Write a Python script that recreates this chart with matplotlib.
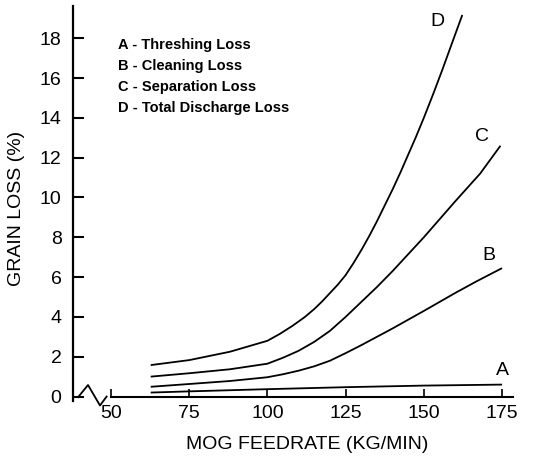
import matplotlib
matplotlib.use('Agg')
import matplotlib.pyplot as plt

plt.rcParams['font.family'] = ['Liberation Sans', 'DejaVu Sans']

# 곡선 데이터
feed_a = [62.7, 75, 100, 125, 150, 175]
loss_a = [0.2, 0.26, 0.37, 0.47, 0.55, 0.6]

feed_b = [62.7, 75, 88, 100, 105, 110, 115, 120, 125, 130, 135, 140, 150, 160, 167, 175]
loss_b = [0.49, 0.63, 0.78, 0.97, 1.12, 1.3, 1.52, 1.8, 2.18, 2.58, 3.0, 3.42, 4.3, 5.2, 5.8, 6.45]

feed_c = [62.7, 75, 88, 100, 105, 110, 115, 120, 125, 130, 135, 140, 150, 160, 168, 174.5]
loss_c = [1.0, 1.17, 1.37, 1.65, 1.95, 2.3, 2.75, 3.3, 4.0, 4.75, 5.5, 6.3, 8.0, 9.8, 11.2, 12.6]

feed_d = [62.7, 75, 88, 100, 104, 108, 112, 115, 117.5, 120, 122.5, 125, 127.5, 130,
          132.5, 135, 137.5, 140, 142.5, 145, 147.5, 150, 153, 156, 159, 162.3]
loss_d = [1.58, 1.83, 2.25, 2.8, 3.15, 3.55, 4.0, 4.4, 4.78, 5.2, 5.62, 6.1, 6.7, 7.35,
          8.05, 8.8, 9.6, 10.4, 11.25, 12.15, 13.05, 14.0, 15.2, 16.45, 17.75, 19.17]

curve_names = ['A', 'B', 'C', 'D']
legend_lines = ['A - Threshing Loss', 'B - Cleaning Loss',
                'C - Separation Loss', 'D - Total Discharge Loss']
x_ticks = [50, 75, 100, 125, 150, 175]
y_ticks = list(range(0, 20, 2))

fig = plt.figure(figsize=(5.33, 4.58), dpi=100)
ax = fig.add_axes([0.1364, 0.1255, 0.8636, 0.8614])
ax.set_xlim(37.76, 184.9)
ax.set_ylim(-0.2, 19.62)

for fx, ly in [(feed_a, loss_a), (feed_b, loss_b), (feed_c, loss_c), (feed_d, loss_d)]:
    ax.plot(fx, ly, color='black', linewidth=1.3, solid_capstyle='butt',
            solid_joinstyle='round')

# 곡선 이름
label_pos = [(175.2, 1.33), (170.9, 7.11), (168.5, 13.06), (154.5, 18.83)]
for name, (lx, ly) in zip(curve_names, label_pos):
    ax.text(lx, ly, name, fontsize=14, ha='center', va='center')

# 범례 텍스트
for i, t in enumerate(legend_lines):
    ax.text(52.3, 17.66 - i * 1.05, t, fontsize=10.5, fontweight='bold',
            ha='left', va='center')

# 축 모양
ax.spines['top'].set_visible(False)
ax.spines['right'].set_visible(False)
ax.spines['left'].set_linewidth(1.6)
ax.spines['bottom'].set_linewidth(1.5)
ax.spines['bottom'].set_position(('data', 0))
ax.spines['bottom'].set_bounds(50, 178.5)

ax.set_xticks(x_ticks)
ax.set_yticks(y_ticks)
ax.tick_params(axis='y', direction='in', length=8, width=1.5, labelsize=14, pad=8)
ax.tick_params(axis='x', direction='in', length=5.5, width=1.2, labelsize=14, pad=6)

# 축 끊김 표시
ax.plot([39.5, 42.65, 46.48, 48.6], [-0.03, 0.58, -0.45, 0.0],
        color='black', linewidth=1.3, clip_on=False)

ax.set_xlabel('MOG FEEDRATE (KG/MIN)', fontsize=14)
ax.set_ylabel('GRAIN LOSS (%)', fontsize=14)
ax.xaxis.set_label_coords(0.509, -0.09)
ax.yaxis.set_label_coords(-0.1036, 0.488)

fig.savefig('out.png', dpi=100)
